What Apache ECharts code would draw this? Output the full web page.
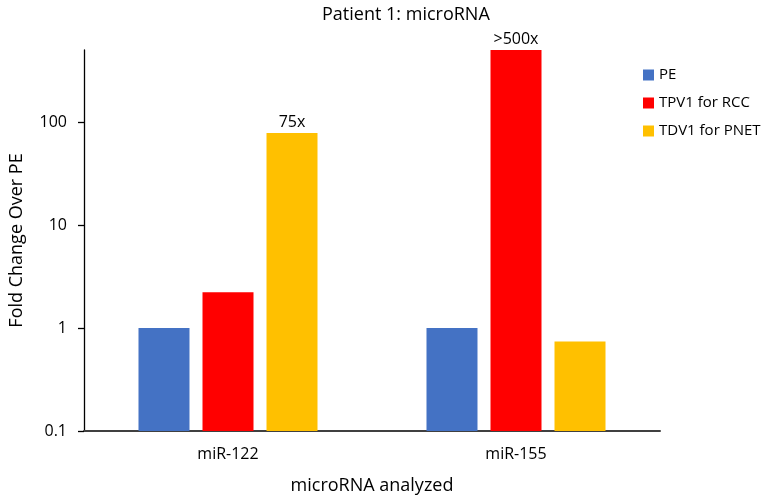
<!DOCTYPE html>
<html>
<head>
<meta charset="utf-8">
<script src="https://cdn.jsdelivr.net/npm/echarts@6/dist/echarts.min.js"></script>
<style>
  html, body { margin: 0; padding: 0; background: #ffffff; }
  #chart { width: 768px; height: 500px; }
</style>
</head>
<body>
<div id="chart"></div>
<script>
const categories = ['miR-122', 'miR-155'];
const seriesNames = ['PE', 'TPV1 for RCC', 'TDV1 for PNET'];
const peValues = [1, 1];
const tpv1Values = [2.22, 500];
const tdv1Values = [78, 0.74];
const peLabels = ['', ''];
const tpv1Labels = ['', '>500x'];
const tdv1Labels = ['75x', ''];
const yTicks = [0.1, 1, 10, 100];
const colors = ['#4472C4', '#FF0000', '#FFC000'];

const FONT = '"Open Sans", "Liberation Sans", sans-serif';
const chart = echarts.init(document.getElementById('chart'));

function makeSeries(name, values, labels, color) {
  return {
    name: name,
    type: 'bar',
    data: values,
    barWidth: 51,
    barGap: '25.5%',
    itemStyle: { color: color },
    label: {
      show: true,
      position: 'top',
      distance: 3,
      fontFamily: FONT,
      fontSize: 16,
      color: '#000',
      formatter: function (p) { return labels[p.dataIndex]; }
    },
    emphasis: { disabled: true }
  };
}

chart.setOption({
  animation: false,
  backgroundColor: '#ffffff',
  title: {
    text: 'Patient 1: microRNA',
    left: 317,
    top: 1,
    textStyle: { fontFamily: FONT, fontSize: 18, fontWeight: 'normal', color: '#000' }
  },
  legend: {
    orient: 'vertical',
    left: 638,
    top: 61,
    itemWidth: 11,
    itemHeight: 11,
    itemGap: 10,
    icon: 'rect',
    data: seriesNames,
    textStyle: { fontFamily: FONT, fontSize: 15, color: '#000', lineHeight: 18 }
  },
  grid: { left: 81, right: 108, top: 50, bottom: 69 },
  xAxis: {
    type: 'category',
    data: categories,
    name: 'microRNA analyzed',
    nameLocation: 'middle',
    nameGap: 46,
    nameTextStyle: { fontFamily: FONT, fontSize: 18, color: '#000' },
    axisLine: { lineStyle: { color: '#404040', width: 2 } },
    axisTick: { show: false },
    axisLabel: { fontFamily: FONT, fontSize: 16, color: '#000', margin: 15 }
  },
  yAxis: {
    type: 'log',
    logBase: 10,
    min: 0.1,
    max: 500,
    startValue: 0.1,
    name: 'Fold Change Over PE',
    nameLocation: 'middle',
    nameGap: 58,
    nameTextStyle: { fontFamily: FONT, fontSize: 18, color: '#000' },
    axisLine: { show: true, lineStyle: { color: '#000', width: 1.3 } },
    axisTick: { show: true, length: 6, lineStyle: { color: '#000', width: 1.3 } },
    splitLine: { show: false },
    axisLabel: {
      fontFamily: FONT, fontSize: 16, color: '#000', margin: 17,
      showMaxLabel: false,
      formatter: function (v) {
        for (let i = 0; i < yTicks.length; i++) {
          if (Math.abs(v - yTicks[i]) < 1e-9 * Math.max(1, yTicks[i])) return String(yTicks[i]);
        }
        return '';
      }
    }
  },
  series: [
    makeSeries(seriesNames[0], peValues, peLabels, colors[0]),
    makeSeries(seriesNames[1], tpv1Values, tpv1Labels, colors[1]),
    makeSeries(seriesNames[2], tdv1Values, tdv1Labels, colors[2])
  ]
});
</script>
</body>
</html>
